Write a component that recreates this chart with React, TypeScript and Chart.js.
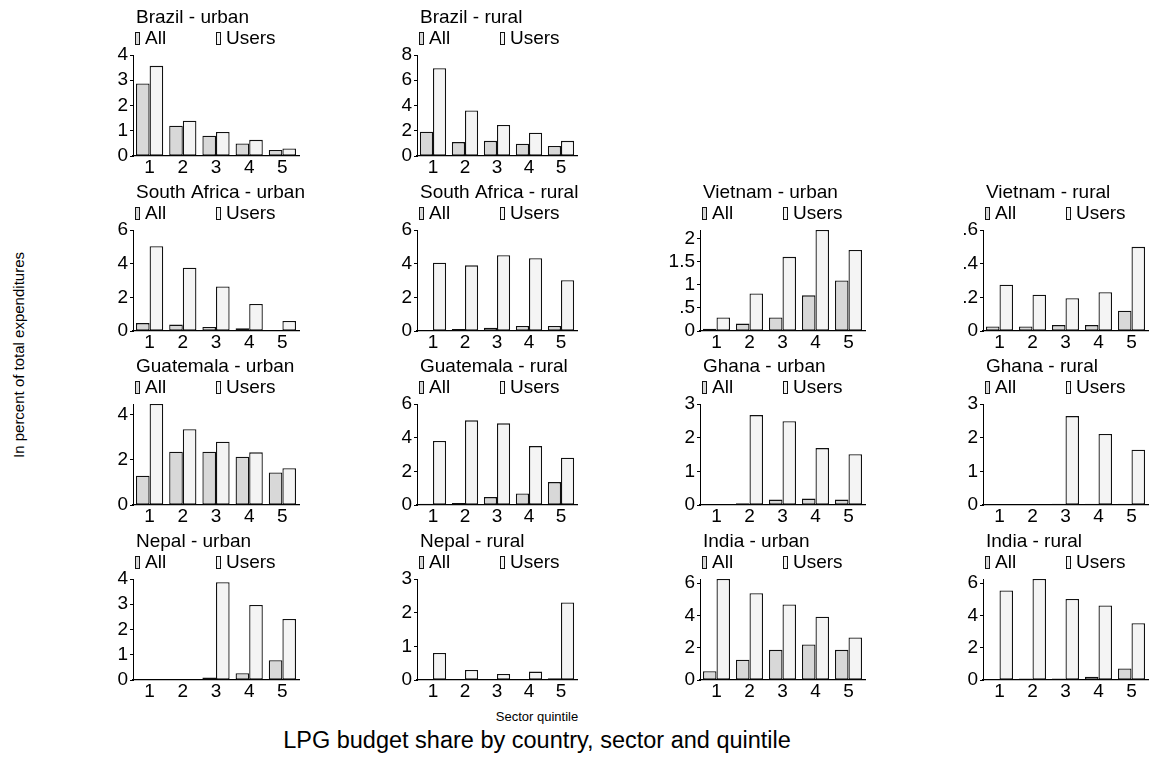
import React, { useEffect, useRef } from 'react';
import { Chart, registerables } from 'chart.js';

Chart.register(...registerables);

const FONT = '"Liberation Sans", Arial, Helvetica, sans-serif';
Chart.defaults.font.family = FONT;
Chart.defaults.color = '#000';

// ---------- data ----------
const quintiles = ['1', '2', '3', '4', '5'];
const seriesNames = ['All', 'Users'];

const brazilUrbanAll = [2.87, 1.2, 0.8, 0.5, 0.24];
const brazilUrbanUsers = [3.57, 1.4, 0.95, 0.64, 0.3];
const brazilRuralAll = [1.92, 1.1, 1.2, 0.98, 0.8];
const brazilRuralUsers = [6.95, 3.6, 2.46, 1.84, 1.2];

const southAfricaUrbanAll = [0.47, 0.38, 0.24, 0.16, 0];
const southAfricaUrbanUsers = [5.04, 3.76, 2.65, 1.61, 0.59];
const southAfricaRuralAll = [0.03, 0.12, 0.2, 0.3, 0.3];
const southAfricaRuralUsers = [4.06, 3.9, 4.5, 4.32, 3.02];
const vietnamUrbanAll = [0.05, 0.16, 0.29, 0.77, 1.09];
const vietnamUrbanUsers = [0.29, 0.81, 1.6, 2.18, 1.75];
const vietnamRuralAll = [0.027, 0.027, 0.035, 0.035, 0.12];
const vietnamRuralUsers = [0.275, 0.216, 0.195, 0.23, 0.5];

const guatemalaUrbanAll = [1.3, 2.36, 2.36, 2.14, 1.44];
const guatemalaUrbanUsers = [4.47, 3.35, 2.8, 2.33, 1.63];
const guatemalaRuralAll = [0.08, 0.12, 0.47, 0.68, 1.36];
const guatemalaRuralUsers = [3.8, 5.03, 4.85, 3.5, 2.81];
const ghanaUrbanAll = [0, 0.05, 0.16, 0.19, 0.16];
const ghanaUrbanUsers = [0, 2.67, 2.49, 1.69, 1.51];
const ghanaRuralAll = [0, 0, 0.04, 0.04, 0.04];
const ghanaRuralUsers = [0, 0, 2.64, 2.11, 1.64];

const nepalUrbanAll = [0, 0, 0.1, 0.27, 0.78];
const nepalUrbanUsers = [0, 0, 3.87, 2.97, 2.42];
const nepalRuralAll = [0.02, 0.01, 0.01, 0.01, 0.05];
const nepalRuralUsers = [0.8, 0.3, 0.18, 0.25, 2.3];
const indiaUrbanAll = [0.55, 1.26, 1.87, 2.2, 1.87];
const indiaUrbanUsers = [6.26, 5.38, 4.68, 3.92, 2.64];
const indiaRuralAll = [0.02, 0.1, 0.1, 0.2, 0.71];
const indiaRuralUsers = [5.55, 6.26, 5.02, 4.62, 3.52];

// tick label sets
const ticksOneToFour = [0, 1, 2, 3, 4];
const ticksEvenToEight = [0, 2, 4, 6, 8];
const ticksEvenToSix = [0, 2, 4, 6];
const ticksEvenToFour = [0, 2, 4];
const ticksOneToThree = [0, 1, 2, 3];
const ticksHalfToTwo = [0, 0.5, 1, 1.5, 2];
const ticksFifthToSix = [0, 0.2, 0.4, 0.6];

const mainTitle = 'LPG budget share by country, sector and quintile';
const xTitle = 'Sector quintile';
const yTitle = 'In percent of total expenditures';

// ---------- panels ----------
type PanelDef = { title: string; all: number[]; users: number[]; ticks: number[]; row: number; col: number };

const panels: PanelDef[] = [
  { title: 'Brazil - urban', all: brazilUrbanAll, users: brazilUrbanUsers, ticks: ticksOneToFour, row: 0, col: 0 },
  { title: 'Brazil - rural', all: brazilRuralAll, users: brazilRuralUsers, ticks: ticksEvenToEight, row: 0, col: 1 },
  { title: 'South Africa - urban', all: southAfricaUrbanAll, users: southAfricaUrbanUsers, ticks: ticksEvenToSix, row: 1, col: 0 },
  { title: 'South Africa - rural', all: southAfricaRuralAll, users: southAfricaRuralUsers, ticks: ticksEvenToSix, row: 1, col: 1 },
  { title: 'Vietnam - urban', all: vietnamUrbanAll, users: vietnamUrbanUsers, ticks: ticksHalfToTwo, row: 1, col: 2 },
  { title: 'Vietnam - rural', all: vietnamRuralAll, users: vietnamRuralUsers, ticks: ticksFifthToSix, row: 1, col: 3 },
  { title: 'Guatemala - urban', all: guatemalaUrbanAll, users: guatemalaUrbanUsers, ticks: ticksEvenToFour, row: 2, col: 0 },
  { title: 'Guatemala - rural', all: guatemalaRuralAll, users: guatemalaRuralUsers, ticks: ticksEvenToSix, row: 2, col: 1 },
  { title: 'Ghana - urban', all: ghanaUrbanAll, users: ghanaUrbanUsers, ticks: ticksOneToThree, row: 2, col: 2 },
  { title: 'Ghana - rural', all: ghanaRuralAll, users: ghanaRuralUsers, ticks: ticksOneToThree, row: 2, col: 3 },
  { title: 'Nepal - urban', all: nepalUrbanAll, users: nepalUrbanUsers, ticks: ticksOneToFour, row: 3, col: 0 },
  { title: 'Nepal - rural', all: nepalRuralAll, users: nepalRuralUsers, ticks: ticksOneToThree, row: 3, col: 1 },
  { title: 'India - urban', all: indiaUrbanAll, users: indiaUrbanUsers, ticks: ticksEvenToSix, row: 3, col: 2 },
  { title: 'India - rural', all: indiaRuralAll, users: indiaRuralUsers, ticks: ticksEvenToSix, row: 3, col: 3 },
];

// ---------- layout / style ----------
const ALL_FILL = '#d8d8d8';
const USERS_FILL = '#f4f4f4';
const EDGE = '#111111';
const Y_AXIS_W = 60;
const X_AXIS_H = 19;
const TOP_PAD = 55;
const PANEL_H = 175;
const plotLefts = [133, 417, 700, 983];
const plotWidths = [166, 160, 165, 165];
const rightPads = [40, 40, 40, 3];
const rowTops = [0, 175, 349, 524];

const fmtTick = (v: number) => {
  const s = String(Math.round(v * 100) / 100);
  return s.startsWith('0.') ? s.slice(1) : s;
};

const headerPlugin = {
  id: 'panelHeader',
  afterDraw(chart: any, _args: any, opts: any) {
    const { ctx, chartArea } = chart;
    const left = chartArea.left;
    ctx.save();
    ctx.fillStyle = '#000';
    ctx.textBaseline = 'alphabetic';
    ctx.textAlign = 'left';
    ctx.font = `19px ${FONT}`;
    ctx.fillText(opts.title || '', left + 3, 22.5);
    const ds = chart.data.datasets;
    const offsets = [2, 83];
    ds.forEach((d: any, i: number) => {
      const bx = left + offsets[i];
      ctx.fillStyle = d.backgroundColor;
      ctx.fillRect(bx, 32, 4, 12.5);
      ctx.strokeStyle = EDGE;
      ctx.lineWidth = 1;
      ctx.strokeRect(bx + 0.5, 32.5, 4, 12);
      ctx.fillStyle = '#000';
      ctx.fillText(d.label, bx + 10, 43.5);
    });
    ctx.restore();
  },
};

function Panel({ p }: { p: PanelDef }) {
  const ref = useRef<HTMLCanvasElement>(null);
  const width = Y_AXIS_W + plotWidths[p.col] + rightPads[p.col];
  useEffect(() => {
    if (!ref.current) return;
    const yMax = Math.max(p.ticks[p.ticks.length - 1], ...p.all, ...p.users);
    const barStyle = {
      borderColor: EDGE,
      borderWidth: 1.3,
      borderSkipped: false,
      categoryPercentage: 0.82,
      barPercentage: 1,
      clip: false as any,
    };
    const chart = new Chart(ref.current, {
      type: 'bar',
      data: {
        labels: quintiles,
        datasets: [
          { label: seriesNames[0], data: p.all, backgroundColor: ALL_FILL, ...barStyle },
          { label: seriesNames[1], data: p.users, backgroundColor: USERS_FILL, ...barStyle },
        ],
      },
      options: {
        responsive: false,
        animation: false,
        events: [],
        layout: { padding: { top: TOP_PAD, left: 0, right: rightPads[p.col], bottom: 0 } },
        plugins: {
          legend: { display: false },
          title: { display: false },
          tooltip: { enabled: false },
          panelHeader: { title: p.title },
        } as any,
        scales: {
          x: {
            grid: { display: false },
            border: { display: true, color: '#000', width: 1.3 },
            ticks: { color: '#000', font: { size: 19, lineHeight: 1 }, padding: -6, maxRotation: 0, autoSkip: false },
            afterFit: (s: any) => { s.height = X_AXIS_H; },
          },
          y: {
            min: 0,
            max: yMax,
            grid: { display: true, drawOnChartArea: false, drawTicks: true, tickLength: 3, color: '#000', lineWidth: 1 },
            border: { display: true, color: '#000', width: 1 },
            ticks: {
              color: '#000',
              font: { size: 19, lineHeight: 1 },
              padding: 2,
              callback: (v: any) => fmtTick(Number(v)),
            },
            afterBuildTicks: (s: any) => { s.ticks = p.ticks.map((v) => ({ value: v })); },
            afterFit: (s: any) => { s.width = Y_AXIS_W; },
          },
        },
      },
      plugins: [headerPlugin],
    });
    return () => chart.destroy();
  }, []);
  return (
    <canvas
      ref={ref}
      width={width}
      height={PANEL_H}
      style={{
        position: 'absolute',
        left: plotLefts[p.col] - Y_AXIS_W,
        top: rowTops[p.row],
        width,
        height: PANEL_H,
      }}
    />
  );
}

export default function App() {
  return (
    <div
      style={{
        position: 'fixed',
        left: 0,
        top: 0,
        width: 1151,
        height: 757,
        overflow: 'hidden',
        background: '#fff',
        fontFamily: FONT,
        color: '#000',
      }}
    >
      {panels.map((p) => (
        <Panel key={p.title} p={p} />
      ))}
      <div
        style={{
          position: 'absolute',
          left: 18,
          top: 355,
          transform: 'translate(-50%, -50%) rotate(-90deg)',
          whiteSpace: 'nowrap',
          fontSize: 15,
          lineHeight: 1,
        }}
      >
        {yTitle}
      </div>
      <div
        style={{
          position: 'absolute',
          left: 537,
          top: 716,
          transform: 'translate(-50%, -50%)',
          whiteSpace: 'nowrap',
          fontSize: 13,
          lineHeight: 1,
        }}
      >
        {xTitle}
      </div>
      <div
        style={{
          position: 'absolute',
          left: 537,
          top: 741,
          transform: 'translate(-50%, -50%)',
          whiteSpace: 'nowrap',
          fontSize: 23.5,
          lineHeight: 1,
        }}
      >
        {mainTitle}
      </div>
    </div>
  );
}
